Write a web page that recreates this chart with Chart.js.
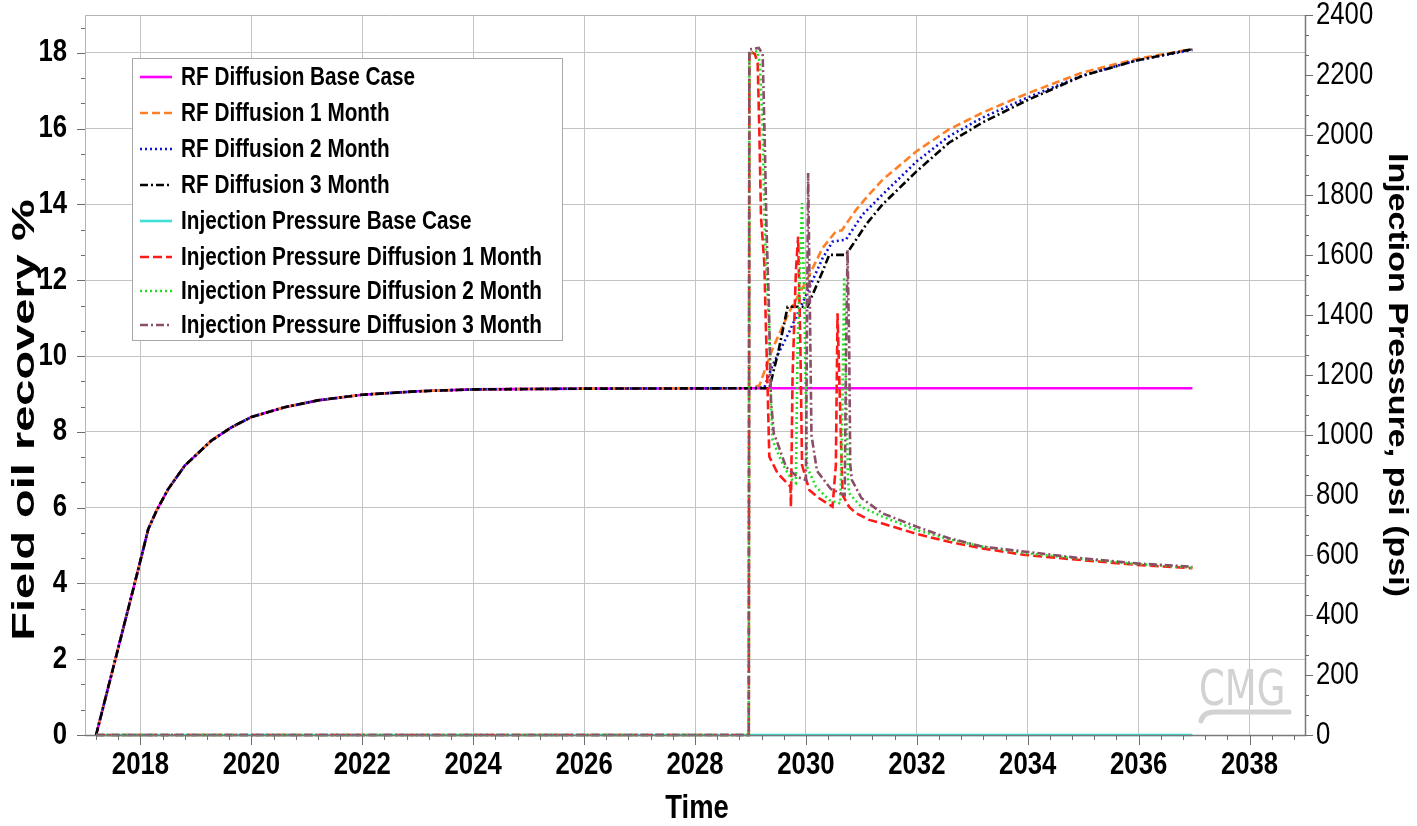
<!DOCTYPE html>
<html>
<head>
<meta charset="utf-8">
<script src="https://cdn.jsdelivr.net/npm/chart.js@4.4.1/dist/chart.umd.min.js"></script>
<style>
  html, body { margin: 0; padding: 0; background: #fff; }
  #wrap { width: 1417px; height: 826px; }
</style>
</head>
<body>
<div id="wrap"><canvas id="c" width="1417" height="826"></canvas></div>
<script>
// 시리즈 이름 (범례 순서)
const seriesNames = [
  'RF Diffusion Base Case',
  'RF Diffusion 1 Month',
  'RF Diffusion 2 Month',
  'RF Diffusion 3 Month',
  'Injection Pressure Base Case',
  'Injection Pressure Diffusion 1 Month',
  'Injection Pressure Diffusion 2 Month',
  'Injection Pressure Diffusion 3 Month'
];

// 축 눈금
const xTicks = [2018, 2020, 2022, 2024, 2026, 2028, 2030, 2032, 2034, 2036, 2038];
const yTicks = [0, 2, 4, 6, 8, 10, 12, 14, 16, 18];
const y1Ticks = [0, 200, 400, 600, 800, 1000, 1200, 1400, 1600, 1800, 2000, 2200, 2400];

// RF (%) - 2029 이전은 네 경우 모두 같음
const rfShareT = [2017.2, 2017.96, 2018.14, 2018.29, 2018.5, 2018.8, 2019.28, 2019.64, 2020.0, 2020.6, 2021.2, 2022.0, 2023.0, 2024.0, 2026.0, 2028.97];
const rfShareV = [0, 4.37, 5.43, 5.92, 6.49, 7.11, 7.77, 8.12, 8.39, 8.65, 8.83, 8.98, 9.07, 9.12, 9.14, 9.15];

const rfBaseT = [2036.97];
const rfBaseV = [9.15];
const rf1T = [2029.16, 2029.40, 2029.70, 2030.0, 2030.30, 2030.54, 2030.65, 2030.78, 2030.9, 2031.1, 2031.38, 2032.0, 2032.58, 2033.18, 2033.96, 2034.98, 2035.96, 2036.97];
const rf1V = [9.22, 10.2, 11.17, 11.96, 12.85, 13.29, 13.32, 13.6, 13.85, 14.2, 14.65, 15.41, 15.98, 16.42, 16.91, 17.48, 17.84, 18.1];
const rf2T = [2029.25, 2029.40, 2029.70, 2030.0, 2030.30, 2030.48, 2030.72, 2030.78, 2031.02, 2031.38, 2032.0, 2032.58, 2033.18, 2033.96, 2034.98, 2035.96, 2036.97];
const rf2V = [9.17, 9.76, 10.64, 11.6, 12.58, 13.02, 13.07, 13.2, 13.73, 14.26, 15.14, 15.8, 16.29, 16.8, 17.4, 17.8, 18.08];
const rf3T = [2029.34, 2029.50, 2029.67, 2030.03, 2030.10, 2030.30, 2030.42, 2030.72, 2030.84, 2031.1, 2031.38, 2032.0, 2032.58, 2033.18, 2033.96, 2034.98, 2035.96, 2036.97];
const rf3V = [9.15, 10.1, 11.3, 11.3, 11.55, 12.23, 12.67, 12.67, 12.93, 13.5, 14.0, 14.88, 15.63, 16.16, 16.73, 17.39, 17.8, 18.1];

// 주입 압력 (psi)
const pBaseT = [2017.2, 2036.97];
const pBaseV = [0, 0];
const p1T = [2017.2, 2028.97, 2028.98, 2029.08, 2029.13, 2029.16, 2029.19, 2029.25, 2029.28, 2029.31, 2029.34, 2029.49, 2029.64, 2029.72, 2029.73, 2029.76, 2029.82, 2029.86, 2029.90, 2029.93, 2030.06, 2030.24, 2030.48, 2030.54, 2030.57, 2030.60, 2030.66, 2030.78, 2030.9, 2031.14, 2031.38, 2032.0, 2032.58, 2033.18, 2033.96, 2034.98, 2035.96, 2036.97];
const p1V = [0, 0, 2280, 2270, 2240, 2017, 1728, 1573, 1350, 1150, 928, 872, 844, 828, 761, 1200, 1550, 1661, 1300, 900, 817, 789, 761, 900, 1406, 1200, 800, 760, 740, 717, 705, 670, 644, 622, 600, 583, 567, 556];
const p2T = [2017.2, 2028.97, 2028.98, 2029.12, 2029.17, 2029.22, 2029.25, 2029.28, 2029.34, 2029.37, 2029.40, 2029.52, 2029.64, 2029.75, 2029.82, 2029.85, 2029.93, 2029.97, 2030.02, 2030.18, 2030.42, 2030.62, 2030.65, 2030.69, 2030.73, 2030.76, 2030.78, 2031.0, 2031.38, 2032.0, 2032.58, 2033.18, 2033.96, 2034.98, 2035.96, 2036.97];
const p2V = [0, 0, 2270, 2280, 2240, 2017, 1740, 1572, 1350, 1100, 983, 928, 883, 850, 840, 1300, 1773, 1450, 894, 828, 783, 772, 1000, 1527, 1100, 850, 806, 760, 728, 683, 652, 628, 606, 587, 570, 558];
const p3T = [2017.2, 2028.97, 2028.98, 2029.15, 2029.22, 2029.26, 2029.29, 2029.33, 2029.37, 2029.42, 2029.49, 2029.64, 2029.85, 2030.0, 2030.04, 2030.07, 2030.10, 2030.2, 2030.45, 2030.7, 2030.72, 2030.75, 2030.78, 2030.80, 2030.83, 2031.0, 2031.38, 2032.0, 2032.58, 2033.18, 2033.96, 2034.98, 2035.96, 2036.97];
const p3V = [0, 0, 2285, 2290, 2270, 1961, 1683, 1450, 1117, 1006, 972, 894, 860, 850, 1873, 1450, 1000, 880, 820, 800, 1200, 1617, 1300, 900, 850, 790, 739, 694, 656, 628, 611, 589, 572, 561];

const SX = 0.83; // 원본 글꼴이 가로로 눌려 있음

function pts(t, v) { return t.map((x, i) => ({ x: x, y: v[i] })); }

const styles = [
  { color: '#ff00ff', dash: [] },
  { color: '#ff7f27', dash: [8, 4] },
  { color: '#1010d0', dash: [2, 3] },
  { color: '#000000', dash: [8, 3, 2, 3] },
  { color: '#40e0d8', dash: [] },
  { color: '#ff1a1a', dash: [9, 4] },
  { color: '#22e022', dash: [2, 3] },
  { color: '#8a4e68', dash: [8, 3, 2, 3] }
];

const rfPart = pts(rfShareT, rfShareV);
const seriesData = [
  rfPart.concat(pts(rfBaseT, rfBaseV)),
  rfPart.concat(pts(rf1T, rf1V)),
  rfPart.concat(pts(rf2T, rf2V)),
  rfPart.concat(pts(rf3T, rf3V)),
  pts(pBaseT, pBaseV),
  pts(p1T, p1V),
  pts(p2T, p2V),
  pts(p3T, p3V)
];

const datasets = seriesData.map((d, i) => ({
  label: seriesNames[i],
  data: d,
  yAxisID: i < 4 ? 'y' : 'y1',
  borderColor: styles[i].color,
  borderDash: styles[i].dash,
  borderWidth: 2.6,
  pointRadius: 0,
  tension: 0,
  clip: 4,
  order: seriesData.length - 1 - i
}));

function txt(c, s, x, y, font, align, base, rot, sx) {
  c.save();
  c.translate(x, y);
  c.scale(sx || SX, 1);
  if (rot) c.rotate(rot);
  c.font = font;
  c.textAlign = align;
  c.textBaseline = base;
  c.fillStyle = '#000';
  c.fillText(s, 0, 0);
  c.restore();
}

// 눈금, 라벨, 범례, 로고를 직접 그림
const decorPlugin = {
  id: 'decor',
  afterDraw(chart) {
    const c = chart.ctx;
    const a = chart.chartArea;
    const sx = chart.scales.x, sy = chart.scales.y, sy1 = chart.scales.y1;

    // 외곽선
    c.save();
    c.lineWidth = 1;
    c.strokeStyle = '#b4b4b4';
    c.beginPath();
    c.moveTo(a.left + 0.5, a.bottom); c.lineTo(a.left + 0.5, a.top + 0.5); c.lineTo(a.right, a.top + 0.5);
    c.stroke();
    c.strokeStyle = '#7a7a7a';
    c.lineWidth = 1.5;
    c.beginPath();
    c.moveTo(a.left, a.bottom + 0.5); c.lineTo(a.right + 0.5, a.bottom + 0.5); c.lineTo(a.right + 0.5, a.top);
    c.stroke();

    // x 눈금 (주 2년, 보조 0.4년)
    c.lineWidth = 1;
    c.strokeStyle = '#6e6e6e';
    c.beginPath();
    for (let k = 0; k <= 55; k++) {
      const v = 2017.2 + k * 0.4;
      if (v > 2039.001) break;
      const px = Math.round(sx.getPixelForValue(v)) + 0.5;
      const major = Math.abs(v - Math.round(v)) < 0.01 && Math.round(v) % 2 === 0;
      c.moveTo(px, a.bottom); c.lineTo(px, a.bottom + (major ? 10 : 5));
    }
    // 왼쪽 y 눈금 (보조 2/3)
    for (let k = 0; k <= 28; k++) {
      const v = k * 2 / 3;
      if (v > 19) break;
      const py = Math.round(sy.getPixelForValue(v)) + 0.5;
      const major = k % 3 === 0;
      c.moveTo(a.left, py); c.lineTo(a.left - (major ? 8 : 4), py);
    }
    // 오른쪽 y 눈금 (보조 200/3)
    for (let k = 0; k <= 36; k++) {
      const v = k * 200 / 3;
      const py = Math.round(sy1.getPixelForValue(v)) + 0.5;
      const major = k % 3 === 0;
      c.moveTo(a.right, py); c.lineTo(a.right + (major ? 8 : 4), py);
    }
    c.stroke();
    c.restore();

    // 눈금 라벨
    xTicks.forEach(v => txt(c, String(v), sx.getPixelForValue(v), 765, 'bold 31px "Liberation Sans", Arial, sans-serif', 'center', 'middle'));
    yTicks.forEach(v => txt(c, String(v), 67, sy.getPixelForValue(v), 'bold 31px "Liberation Sans", Arial, sans-serif', 'right', 'middle'));
    y1Ticks.forEach(v => txt(c, String(v), 1316, sy1.getPixelForValue(v), '31px "Liberation Sans", Arial, sans-serif', 'left', 'middle'));

    // 축 제목
    txt(c, 'Time', 697, 809, 'bold 33px "Liberation Sans", Arial, sans-serif', 'center', 'middle');
    txt(c, 'Field oil recovery %', 25, 420, 'bold 47px "Liberation Sans", Arial, sans-serif', 'center', 'middle', -Math.PI / 2, 0.66);
    txt(c, 'Injection Pressure, psi (psi)', 1397, 375, 'bold 34px "Liberation Sans", Arial, sans-serif', 'center', 'middle', Math.PI / 2);

    // 범례
    c.save();
    c.fillStyle = '#fff';
    c.strokeStyle = '#a8a8a8';
    c.lineWidth = 1;
    c.fillRect(132, 58, 430, 282);
    c.strokeRect(132.5, 58.5, 430, 282);
    const rowY = [77, 113, 149, 185, 221, 257, 291, 325];
    seriesNames.forEach((name, i) => {
      c.save();
      c.strokeStyle = styles[i].color;
      c.lineWidth = 2.6;
      c.setLineDash(styles[i].dash);
      c.beginPath();
      c.moveTo(140, rowY[i]); c.lineTo(172, rowY[i]);
      c.stroke();
      c.restore();
      txt(c, name, 181, rowY[i] + 1, 'bold 25px "Liberation Sans", Arial, sans-serif', 'left', 'middle');
    });
    c.restore();

    // CMG 로고
    c.save();
    c.translate(1199, 705);
    c.scale(0.74, 1);
    c.font = '50px "DejaVu Sans", sans-serif';
    c.fillStyle = '#d2d2d2';
    c.textBaseline = 'alphabetic';
    c.fillText('CMG', 0, 0);
    c.restore();
    c.save();
    c.strokeStyle = '#d2d2d2';
    c.lineWidth = 5;
    c.lineCap = 'round';
    c.beginPath();
    c.moveTo(1201, 721);
    c.quadraticCurveTo(1203, 712, 1215, 712);
    c.lineTo(1289, 712);
    c.stroke();
    c.restore();
  }
};

new Chart(document.getElementById('c'), {
  type: 'line',
  data: { datasets: datasets },
  options: {
    responsive: false,
    animation: false,
    devicePixelRatio: 1,
    layout: { padding: { top: 15, left: 0, right: 0, bottom: 0 } },
    plugins: { legend: { display: false }, tooltip: { enabled: false } },
    scales: {
      x: {
        type: 'linear', min: 2017, max: 2039,
        afterBuildTicks: s => { s.ticks = xTicks.map(v => ({ value: v })); },
        afterFit: s => { s.height = 91; },
        ticks: { display: false },
        grid: { color: '#c4c4c4', lineWidth: 1, drawTicks: false },
        border: { display: false }
      },
      y: {
        position: 'left', min: 0, max: 19,
        afterBuildTicks: s => { s.ticks = yTicks.map(v => ({ value: v })); },
        afterFit: s => { s.width = 85; },
        ticks: { display: false },
        grid: { color: '#c4c4c4', lineWidth: 1, drawTicks: false },
        border: { display: false }
      },
      y1: {
        position: 'right', min: 0, max: 2400,
        afterBuildTicks: s => { s.ticks = y1Ticks.map(v => ({ value: v })); },
        afterFit: s => { s.width = 112; },
        ticks: { display: false },
        grid: { display: false, drawTicks: false },
        border: { display: false }
      }
    }
  },
  plugins: [decorPlugin]
});
</script>
</body>
</html>
